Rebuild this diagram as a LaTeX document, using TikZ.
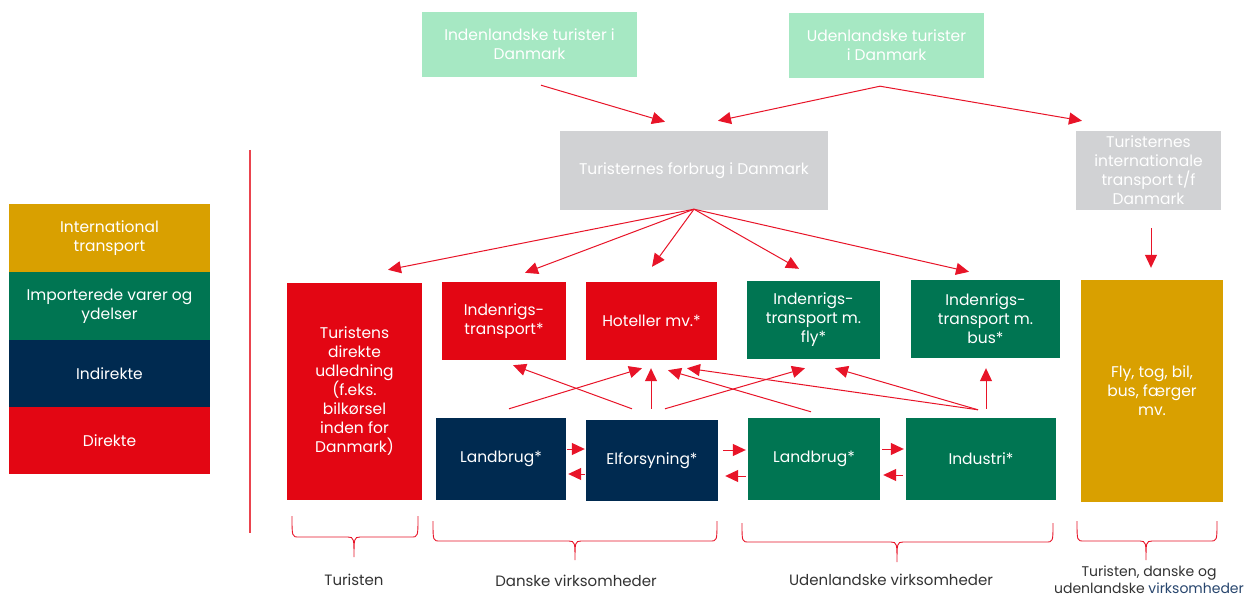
\documentclass[tikz,border=0pt]{standalone}
\usepackage{fontspec}
\setmainfont{Poppins}
\usetikzlibrary{arrows.meta,calc}
\definecolor{cred}{RGB}{227,6,19}
\definecolor{cnavy}{RGB}{0,42,80}
\definecolor{cgreen}{RGB}{0,117,82}
\definecolor{cgold}{RGB}{217,160,0}
\definecolor{clgreen}{RGB}{166,232,195}
\definecolor{cgray}{RGB}{209,210,212}
\definecolor{carrow}{RGB}{232,20,40}
\definecolor{ctext}{RGB}{51,51,51}
\definecolor{cblue}{RGB}{40,70,110}
\newcommand\brc[6]{% x1 x2 xm ytop yh ytip
  \draw[brace] (#1,#4) .. controls (#1,#5) and (#1,#5) .. ({#1+7},#5) -- ({#3-6},#5)
    .. controls (#3,#5) and (#3,{#5+2}) .. (#3,#6)
    .. controls (#3,{#5+2}) and (#3,#5) .. ({#3+6},#5) -- ({#2-7},#5)
    .. controls (#2,#5) and (#2,#5) .. (#2,#4);}
\begin{document}
\begin{tikzpicture}[x=1pt,y=-1pt,
  box/.style={draw=none, inner sep=0pt, align=center, text=white, font=\fontsize{15.5}{19}\selectfont},
  arr/.style={draw=carrow, line width=1pt, -{Triangle[length=13pt,width=12pt]}},
  brace/.style={draw=carrow, line width=0.9pt},
  lbl/.style={text=ctext, align=center, font=\fontsize{15}{18}\selectfont}]
\useasboundingbox[fill=white] (0,0) rectangle (1256,599);

% top boxes
\node[box, fill=clgreen, minimum width=215pt, minimum height=65pt] (indl) at (529.5,44.5) {Indenlandske turister i\\Danmark};
\node[box, fill=clgreen, minimum width=195pt, minimum height=65pt] (udl) at (886.5,45.5) {Udenlandske turister\\i Danmark};
\node[box, fill=cgray, minimum width=268pt, minimum height=79pt] (forb) at (694,170.5) {Turisternes forbrug i Danmark};
\node[box, fill=cgray, minimum width=145pt, minimum height=79pt] (intl) at (1148.5,170.5) {Turisternes\\internationale\\transport t/f\\Danmark};

% legend
\node[box, fill=cgold, minimum width=201pt, minimum height=68pt] (lgold) at (109.5,238) {International\\transport};
\node[box, fill=cgreen, minimum width=201pt, minimum height=68pt] (lgreen) at (109.5,306) {Importerede varer og\\ydelser};
\node[box, fill=cnavy, minimum width=201pt, minimum height=67pt] (lnavy) at (109.5,373.5) {Indirekte};
\node[box, fill=cred, minimum width=201pt, minimum height=67pt] (lred) at (109.5,440.5) {Direkte};

% divider
\draw[cred!75, line width=1.4pt] (250,150) -- (250,533);

% row 2
\node[box, fill=cred, minimum width=135pt, minimum height=217pt] (tur) at (354.5,391.5) {Turistens\\direkte\\udledning\\(f.eks.\\bilkørsel\\inden for\\Danmark)};
\node[box, fill=cred, minimum width=124pt, minimum height=78pt] (itr) at (504,321) {Indenrigs-\\transport*};
\node[box, fill=cred, minimum width=131pt, minimum height=78pt] (hot) at (651.5,321) {Hoteller mv.*};
\node[box, fill=cgreen, minimum width=133pt, minimum height=78pt] (fly) at (813.5,320) {Indenrigs-\\transport m.\\fly*};
\node[box, fill=cgreen, minimum width=149pt, minimum height=78pt] (bus) at (985.5,319) {Indenrigs-\\transport m.\\bus*};
\node[box, fill=cgold, minimum width=142pt, minimum height=222pt] (ftb) at (1152,391) {Fly, tog, bil,\\bus, færger\\mv.};

% row 3
\node[box, fill=cnavy, minimum width=130pt, minimum height=82pt] (lb1) at (501,459) {Landbrug*};
\node[box, fill=cnavy, minimum width=132pt, minimum height=81pt] (elf) at (652,460.5) {Elforsyning*};
\node[box, fill=cgreen, minimum width=132pt, minimum height=82pt] (lb2) at (814,459) {Landbrug*};
\node[box, fill=cgreen, minimum width=150pt, minimum height=82pt] (ind2) at (981,459) {Industri*};

% top arrows
\draw[arr] ($(indl.south)+(11.5,8)$) -- ($(forb.north)+(-29,-9)$);
\draw[arr] ($(udl.south)+(-6.5,8)$) -- ($(forb.north)+(24,-10)$);
\draw[arr] ($(udl.south)+(-6.5,8)$) -- ($(intl.north)+(-66.5,-10)$);

% fan arrows
\draw[arr] ($(forb.south)+(0,-1)$) -- ($(tur.north)+(33.5,-13)$);
\draw[arr] ($(forb.south)+(0,-1)$) -- ($(itr.north)+(21,-9)$);
\draw[arr] ($(forb.south)+(0,-1)$) -- ($(hot.north)+(0.5,-15)$);
\draw[arr] ($(forb.south)+(0,-1)$) -- ($(fly.north)+(-14.5,-12)$);
\draw[arr] ($(forb.south)+(0,-1)$) -- ($(bus.north)+(-16.5,-8)$);
\draw[arr] ($(intl.south)+(2.5,18)$) -- ($(ftb.north)+(-1,-12)$);

% row3 -> row2
\draw[arr] ($(lb1.north)+(8,-9)$) -- ($(hot.south)+(-9.5,8)$);
\draw[arr] ($(elf.north)+(-20,-11)$) -- ($(itr.south)+(9,5)$);
\draw[arr] ($(elf.north)+(-1,-11)$) -- ($(hot.south)+(-0.5,8)$);
\draw[arr] ($(elf.north)+(13,-11)$) -- ($(fly.south)+(-8.5,9)$);
\draw[arr] ($(lb2.north)+(-3,-6)$) -- ($(hot.south)+(16.5,10)$);
\draw[arr] ($(ind2.north)+(-3,-8)$) -- ($(hot.south)+(35.5,8)$);
\draw[arr] ($(ind2.north)+(-3,-8)$) -- ($(fly.south)+(21.5,9)$);
\draw[arr] ($(ind2.north)+(5,-9)$) -- ($(bus.south)+(0.5,10)$);

% horizontal arrows
\draw[arr] ($(lb1.east)+(1,-10)$) -- ($(elf.west)+(-1,-11.5)$);
\draw[arr] ($(elf.west)+(-1,13.5)$) -- ($(lb1.east)+(2,15)$);
\draw[arr] ($(elf.east)+(5,-10.5)$) -- ($(lb2.west)+(-2,-9)$);
\draw[arr] ($(lb2.west)+(-2,17)$) -- ($(elf.east)+(7,15.5)$);
\draw[arr] ($(lb2.east)+(2,-10)$) -- ($(ind2.west)+(-2,-10)$);
\draw[arr] ($(ind2.west)+(-3,16)$) -- ($(lb2.east)+(3,16)$);

% braces
\brc{292}{418}{354}{516}{537}{557}
\brc{433}{717}{575}{521}{541}{560}
\brc{742}{1053}{897}{523}{542}{562}
\brc{1077}{1217}{1146}{521}{541}{560}

% labels
\node[lbl] (l1) at (354,580) {Turisten};
\node[lbl] (l2) at (576,581) {Danske virksomheder};
\node[lbl] (l3) at (891,580) {Udenlandske virksomheder};
\node[lbl, font=\fontsize{14}{17}\selectfont] (l4) at (1149,580) {Turisten, danske og\\udenlandske \textcolor{cblue}{virksomheder}};
\end{tikzpicture}
\end{document}
